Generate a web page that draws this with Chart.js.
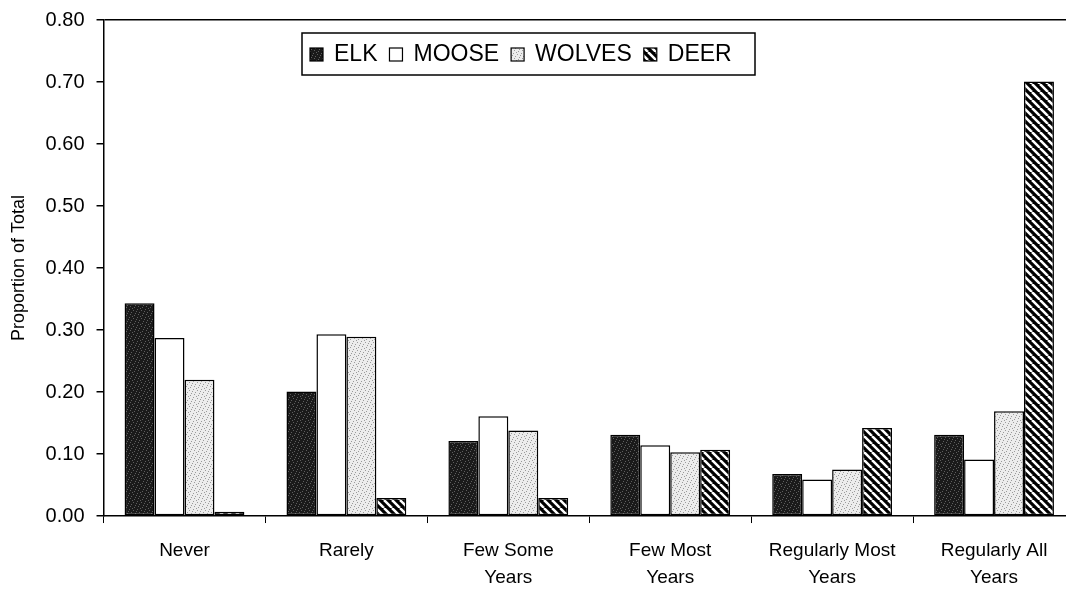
<!DOCTYPE html>
<html>
<head>
<meta charset="utf-8">
<script src="https://cdn.jsdelivr.net/npm/chart.js@4/dist/chart.umd.min.js"></script>
<style>
  html, body { margin: 0; padding: 0; background: #fff; overflow: hidden; }
  #wrap { position: relative; width: 1080px; height: 611px; margin-top: -4px; }
</style>
</head>
<body>
<div id="wrap"><canvas id="chart"></canvas></div>
<script>
const categories = [
  'Never', 'Rarely', ['Few Some', 'Years'], ['Few Most', 'Years'],
  ['Regularly Most', 'Years'], ['Regularly All', 'Years']
];
const seriesNames = ['ELK', 'MOOSE', 'WOLVES', 'DEER'];
const elk    = [0.343, 0.201, 0.121, 0.131, 0.068, 0.131];
const moose  = [0.287, 0.293, 0.161, 0.114, 0.059, 0.091];
const wolves = [0.220, 0.289, 0.138, 0.103, 0.075, 0.169];
const deer   = [0.007, 0.029, 0.029, 0.107, 0.142, 0.701];
const yTicks = [0, 0.1, 0.2, 0.3, 0.4, 0.5, 0.6, 0.7, 0.8];

const FONT = "'Liberation Sans', Arial, sans-serif";

// fixed dot offsets used for the stippled fills
const DOTS = [[1,1],[5,2],[3,4],[7,5],[2,6],[6,7],[0,3],[4,0]];

function stipple(base, dot) {
  const c = document.createElement('canvas');
  c.width = 8; c.height = 8;
  const g = c.getContext('2d');
  g.fillStyle = base;
  g.fillRect(0, 0, 8, 8);
  g.fillStyle = dot;
  DOTS.forEach(([x, y]) => g.fillRect(x, y, 1, 1));
  return g.createPattern(c, 'repeat');
}

function stripes() {
  const c = document.createElement('canvas');
  c.width = 8; c.height = 8;
  const g = c.getContext('2d');
  g.fillStyle = '#000';
  g.fillRect(0, 0, 8, 8);
  g.strokeStyle = '#fff';
  g.lineWidth = 2.5;
  [-8, 0, 8].forEach(o => {
    g.beginPath();
    g.moveTo(o, 0);
    g.lineTo(o + 8, 8);
    g.stroke();
  });
  return g.createPattern(c, 'repeat');
}

const ctx = document.getElementById('chart');
const fills = [stipple('#1a1a1a', '#5e5e5e'), '#ffffff', stipple('#ececec', '#9a9a9a'), stripes()];
const values = [elk, moose, wolves, deer];

// boxed legend drawn inside the plot, like the original
const boxLegend = {
  id: 'boxLegend',
  afterDraw(chart) {
    const g = chart.ctx;
    const x0 = 302, y0 = 37, w = 453, h = 42;
    g.save();
    g.fillStyle = '#fff';
    g.fillRect(x0, y0, w, h);
    g.strokeStyle = '#000';
    g.lineWidth = 1.5;
    g.strokeRect(x0, y0, w, h);
    g.font = '23px ' + FONT;
    g.textBaseline = 'middle';
    let x = x0 + 8;
    const cy = y0 + h / 2 + 1;
    chart.data.datasets.forEach(ds => {
      g.fillStyle = ds.backgroundColor;
      g.fillRect(x, cy - 7, 13, 13);
      g.lineWidth = 1.2;
      g.strokeRect(x, cy - 7, 13, 13);
      x += 24;
      g.fillStyle = '#000';
      g.fillText(ds.label, x, cy);
      x += g.measureText(ds.label).width + 12;
    });
    g.restore();
  }
};

new Chart(ctx, {
  type: 'bar',
  data: {
    labels: categories,
    datasets: seriesNames.map((name, i) => ({
      label: name,
      data: values[i],
      backgroundColor: fills[i],
      borderColor: '#000',
      borderWidth: 1.5,
      borderSkipped: false,
      categoryPercentage: 0.74,
      barPercentage: 1.0,
    }))
  },
  options: {
    responsive: true,
    maintainAspectRatio: false,
    animation: false,
    layout: { padding: { top: 6, right: 5, left: 0, bottom: 2 } },
    plugins: {
      legend: { display: false },
      tooltip: { enabled: false },
    },
    scales: {
      x: {
        border: { color: '#000', width: 1.5 },
        grid: { drawOnChartArea: false, tickColor: '#000', tickLength: 7, offset: true },
        ticks: {
          color: '#000',
          font: { family: FONT, size: 19, lineHeight: 1.42 },
          padding: 14,
          maxRotation: 0,
          autoSkip: false,
        }
      },
      y: {
        min: 0,
        max: 0.8,
        afterBuildTicks: axis => { axis.ticks = yTicks.map(v => ({ value: v })); },
        border: { color: '#000', width: 1.5 },
        grid: {
          color: c => (c.tick && c.tick.value === 0.8 ? '#000' : 'rgba(0,0,0,0)'),
          lineWidth: 1.5,
          tickColor: '#000',
          tickLength: 7,
        },
        ticks: {
          color: '#000',
          font: { family: FONT, size: 20 },
          padding: 12,
          callback: v => v.toFixed(2),
        },
        title: {
          display: true,
          text: 'Proportion of Total',
          color: '#000',
          font: { family: FONT, size: 18 },
          padding: { top: 8, bottom: 4 },
        }
      }
    }
  },
  plugins: [boxLegend]
});
</script>
</body>
</html>
